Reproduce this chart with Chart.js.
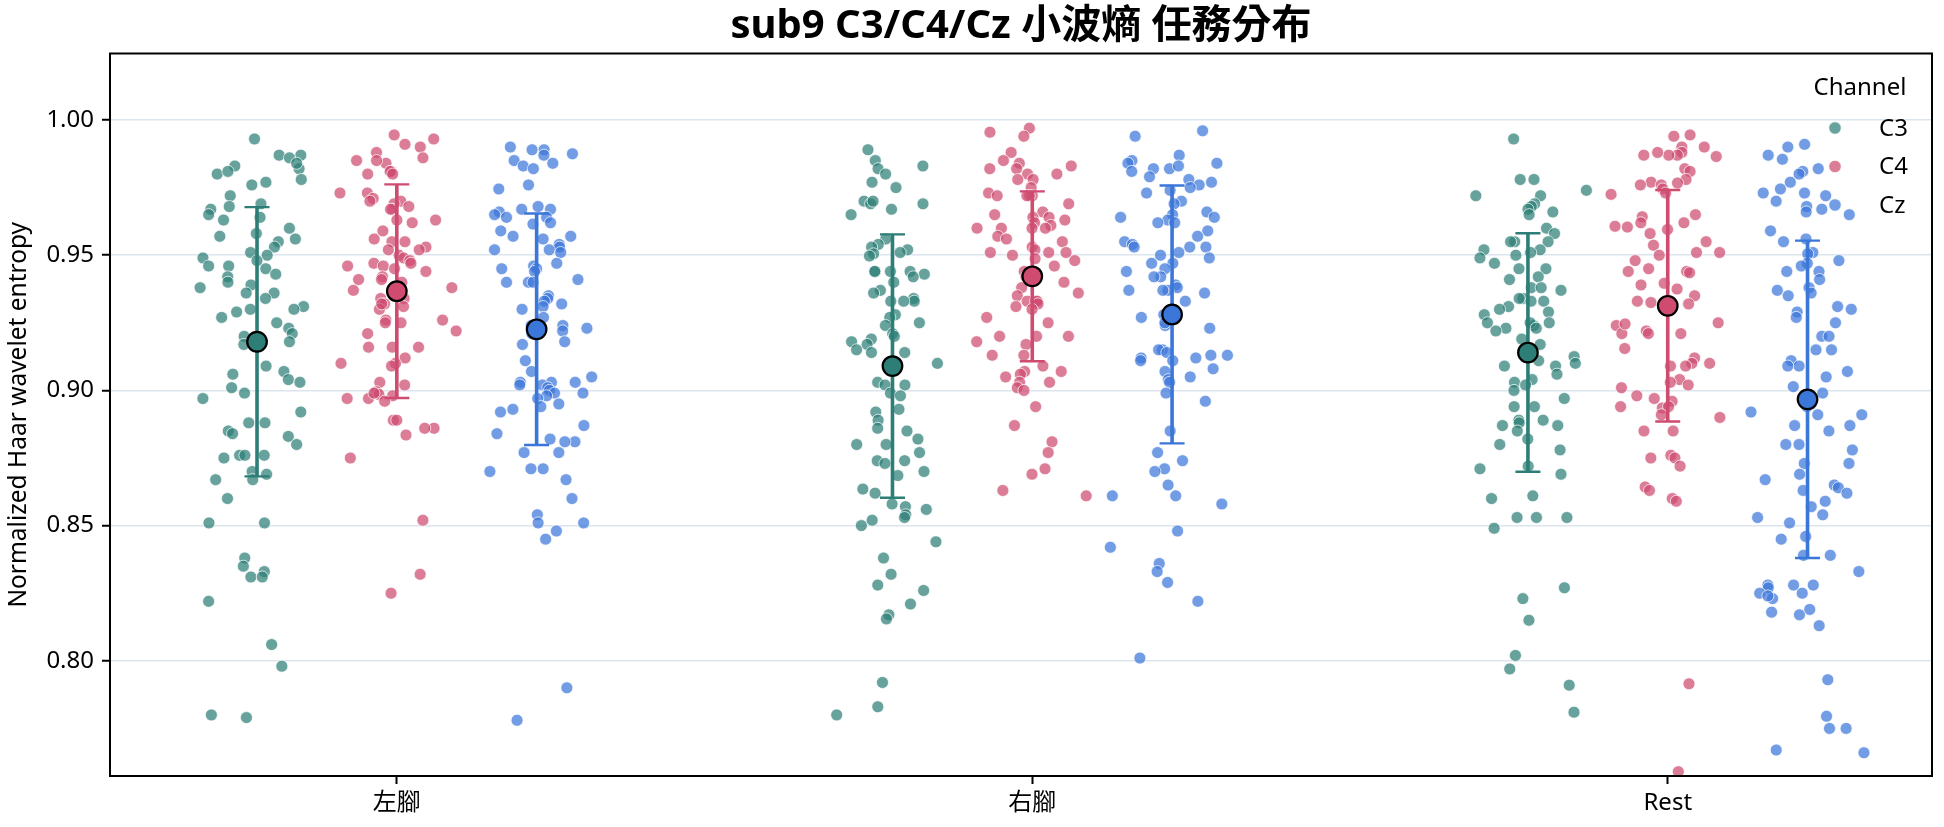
<!DOCTYPE html>
<html><head><meta charset="utf-8">
<script src="https://cdn.jsdelivr.net/npm/chart.js@4.4.1/dist/chart.umd.min.js"></script>
<style>html,body{margin:0;padding:0;background:#fff;}#wrap{width:1944px;height:827px;}</style>
</head><body><div id="wrap"><canvas id="c" width="1944" height="827"></canvas></div>
<script>
// ---------- data ----------
const categories = ['左腳', '右腳', 'Rest'];
const channels = ['C3', 'C4', 'Cz'];
const yTicks = [0.80, 0.85, 0.90, 0.95, 1.00];

const leftC3 = [0.993,0.987,0.987,0.986,0.983,0.982,0.984,0.980,0.981,0.978,0.977,0.976,0.972,0.969,0.968,0.967,0.965,0.964,0.963,0.960,0.958,0.957,0.956,0.955,0.953,0.951,0.950,0.949,0.948,0.946,0.946,0.945,0.943,0.942,0.940,0.939,0.938,0.936,0.936,0.934,0.931,0.930,0.930,0.929,0.927,0.925,0.923,0.921,0.920,0.918,0.917,0.909,0.907,0.906,0.904,0.903,0.901,0.899,0.897,0.892,0.888,0.888,0.885,0.884,0.883,0.880,0.876,0.876,0.876,0.875,0.870,0.869,0.867,0.867,0.860,0.851,0.851,0.838,0.835,0.833,0.831,0.831,0.822,0.806,0.798,0.780,0.779];
const leftC4 = [0.9945,0.990,0.993,0.991,0.988,0.986,0.985,0.984,0.985,0.981,0.981,0.980,0.980,0.973,0.973,0.971,0.970,0.970,0.969,0.968,0.967,0.967,0.963,0.963,0.962,0.959,0.956,0.955,0.955,0.953,0.952,0.952,0.950,0.949,0.948,0.947,0.947,0.946,0.946,0.945,0.944,0.942,0.941,0.941,0.940,0.938,0.937,0.934,0.934,0.932,0.931,0.930,0.932,0.926,0.925,0.925,0.926,0.922,0.921,0.916,0.916,0.916,0.912,0.910,0.909,0.910,0.903,0.902,0.8995,0.8985,0.897,0.899,0.898,0.897,0.896,0.889,0.889,0.886,0.8835,0.886,0.875,0.852,0.832,0.825];
const leftCz = [0.990,0.989,0.989,0.9875,0.987,0.985,0.984,0.983,0.982,0.976,0.9745,0.968,0.967,0.967,0.966,0.965,0.964,0.964,0.962,0.9615,0.959,0.957,0.957,0.956,0.954,0.953,0.952,0.952,0.951,0.947,0.946,0.945,0.945,0.944,0.941,0.940,0.940,0.940,0.935,0.934,0.933,0.932,0.931,0.930,0.927,0.924,0.924,0.923,0.922,0.921,0.918,0.917,0.911,0.907,0.905,0.903,0.903,0.903,0.902,0.902,0.901,0.900,0.899,0.899,0.898,0.897,0.895,0.894,0.893,0.892,0.887,0.884,0.882,0.881,0.881,0.877,0.877,0.871,0.870,0.871,0.867,0.860,0.854,0.851,0.851,0.848,0.845,0.790,0.778];
const rightC3 = [0.989,0.985,0.983,0.982,0.980,0.977,0.975,0.970,0.969,0.970,0.969,0.967,0.965,0.956,0.954,0.953,0.952,0.951,0.9505,0.9497,0.944,0.944,0.943,0.944,0.944,0.942,0.940,0.937,0.936,0.934,0.933,0.933,0.933,0.928,0.927,0.925,0.924,0.921,0.920,0.919,0.918,0.917,0.915,0.914,0.914,0.910,0.903,0.902,0.902,0.899,0.898,0.893,0.892,0.889,0.886,0.885,0.882,0.880,0.880,0.877,0.874,0.874,0.873,0.870,0.8685,0.8635,0.862,0.856,0.857,0.858,0.854,0.853,0.852,0.850,0.844,0.838,0.832,0.828,0.826,0.821,0.817,0.8155,0.792,0.783,0.780];
const rightC4 = [0.997,0.9955,0.994,0.988,0.985,0.984,0.983,0.982,0.982,0.980,0.980,0.978,0.978,0.975,0.973,0.972,0.972,0.972,0.972,0.969,0.966,0.965,0.964,0.964,0.963,0.962,0.961,0.960,0.960,0.960,0.960,0.957,0.956,0.955,0.953,0.952,0.951,0.951,0.951,0.950,0.9487,0.948,0.946,0.944,0.942,0.940,0.938,0.936,0.935,0.933,0.933,0.933,0.932,0.931,0.930,0.927,0.925,0.920,0.920,0.920,0.917,0.918,0.913,0.913,0.909,0.907,0.907,0.906,0.905,0.903,0.903,0.901,0.900,0.894,0.887,0.881,0.877,0.871,0.869,0.863,0.861];
const rightCz = [0.996,0.994,0.987,0.985,0.984,0.982,0.984,0.983,0.982,0.981,0.979,0.978,0.977,0.976,0.975,0.974,0.973,0.970,0.969,0.966,0.965,0.964,0.964,0.963,0.962,0.962,0.959,0.957,0.955,0.954,0.953,0.953,0.953,0.951,0.950,0.949,0.947,0.947,0.945,0.944,0.942,0.942,0.939,0.938,0.937,0.937,0.937,0.936,0.933,0.928,0.927,0.927,0.924,0.925,0.923,0.915,0.915,0.914,0.913,0.913,0.912,0.912,0.911,0.911,0.908,0.907,0.905,0.904,0.903,0.899,0.896,0.885,0.877,0.874,0.871,0.870,0.865,0.861,0.861,0.858,0.848,0.842,0.836,0.833,0.829,0.822,0.801];
const restC3 = [0.993,0.978,0.978,0.974,0.972,0.972,0.969,0.968,0.967,0.966,0.965,0.960,0.958,0.955,0.955,0.955,0.952,0.952,0.951,0.950,0.949,0.947,0.945,0.945,0.942,0.941,0.938,0.938,0.937,0.934,0.934,0.933,0.933,0.931,0.930,0.929,0.928,0.925,0.924,0.925,0.925,0.923,0.923,0.922,0.919,0.917,0.915,0.9125,0.911,0.910,0.909,0.909,0.906,0.904,0.903,0.902,0.900,0.897,0.894,0.894,0.889,0.889,0.888,0.887,0.887,0.885,0.882,0.880,0.878,0.872,0.871,0.869,0.861,0.860,0.853,0.853,0.853,0.849,0.827,0.823,0.815,0.802,0.797,0.791,0.781];
const restC4 = [0.9945,0.994,0.990,0.990,0.988,0.987,0.987,0.9865,0.987,0.988,0.982,0.981,0.978,0.977,0.9767,0.976,0.976,0.9745,0.973,0.9725,0.965,0.9642,0.962,0.962,0.9607,0.9604,0.9595,0.958,0.955,0.9537,0.951,0.951,0.950,0.948,0.945,0.944,0.944,0.9435,0.9396,0.939,0.9375,0.935,0.933,0.9325,0.932,0.925,0.924,0.922,0.921,0.9246,0.921,0.921,0.9155,0.912,0.910,0.910,0.909,0.909,0.904,0.903,0.902,0.901,0.898,0.897,0.896,0.894,0.8935,0.894,0.891,0.890,0.885,0.885,0.876,0.875,0.875,0.872,0.8643,0.863,0.860,0.859,0.7915,0.759];
const restCz = [0.991,0.990,0.987,0.9855,0.982,0.981,0.980,0.977,0.9745,0.973,0.973,0.972,0.970,0.968,0.967,0.966,0.965,0.959,0.956,0.955,0.951,0.9505,0.948,0.947,0.946,0.944,0.944,0.941,0.938,0.937,0.936,0.935,0.931,0.929,0.930,0.927,0.925,0.920,0.920,0.915,0.915,0.911,0.909,0.909,0.907,0.905,0.9014,0.899,0.895,0.894,0.892,0.891,0.891,0.887,0.887,0.885,0.880,0.880,0.878,0.873,0.873,0.869,0.867,0.865,0.864,0.863,0.862,0.859,0.857,0.854,0.853,0.851,0.846,0.845,0.839,0.839,0.833,0.828,0.828,0.828,0.827,0.825,0.825,0.823,0.824,0.819,0.818,0.817,0.813,0.793,0.7795,0.775,0.775,0.767,0.766];

// mean and error-bar half length (SD), per category
const meanC3 = [0.918, 0.909, 0.914];
const sdC3   = [0.0498, 0.0487, 0.0441];
const meanC4 = [0.9367, 0.9422, 0.9313];
const sdC4   = [0.0395, 0.0314, 0.0428];
const meanCz = [0.9226, 0.9281, 0.8967];
const sdCz   = [0.0428, 0.0477, 0.0587];

// ---------- styling ----------
const FONT = "'Noto Sans', 'Noto Sans CJK TC', sans-serif";
const solid = { C3: '#2c7e76', C4: '#cf4b70', Cz: '#3b76d9' };
const alpha = { C3: 'rgba(44,126,118,0.72)', C4: 'rgba(207,75,112,0.72)', Cz: 'rgba(59,118,217,0.72)' };
const dodge = { C3: -0.22, C4: 0, Cz: 0.22 };
const JITTER = 0.1;

// deterministic strip-plot jitter (centre-weighted)
function mulberry32(a){return function(){a|=0;a=a+0x6D2B79F5|0;let t=Math.imul(a^a>>>15,1|a);t=t+Math.imul(t^t>>>7,61|t)^t;return((t^t>>>14)>>>0)/4294967296;};}
const rnd = mulberry32(20240917);

const series = {
  C3: [leftC3, rightC3, restC3],
  C4: [leftC4, rightC4, restC4],
  Cz: [leftCz, rightCz, restCz]
};
const stats = {
  C3: { mean: meanC3, sd: sdC3 },
  C4: { mean: meanC4, sd: sdC4 },
  Cz: { mean: meanCz, sd: sdCz }
};

const datasets = [];
const drawOrder = { C3: 3, C4: 2, Cz: 1 };
channels.forEach(ch => {
  const pts = [];
  series[ch].forEach((vals, ci) => {
    vals.forEach(v => pts.push({ x: ci + dodge[ch] + (rnd() + rnd() - 1) * JITTER, y: v }));
  });
  datasets.push({
    type: 'scatter', label: ch, data: pts, order: drawOrder[ch],
    pointRadius: 6, pointHoverRadius: 6,
    backgroundColor: alpha[ch], borderColor: 'rgba(255,255,255,0.9)', borderWidth: 0.8
  });
});
const meanPts = [], meanCols = [], meanInfo = [];
channels.forEach(ch => {
  categories.forEach((c, ci) => {
    meanPts.push({ x: ci + dodge[ch], y: stats[ch].mean[ci] });
    meanCols.push(solid[ch]);
    meanInfo.push({ ch, x: ci + dodge[ch], lo: stats[ch].mean[ci] - stats[ch].sd[ci], hi: stats[ch].mean[ci] + stats[ch].sd[ci] });
  });
});
datasets.push({
  type: 'scatter', label: 'mean', data: meanPts, order: 0,
  pointRadius: 9.8, pointHoverRadius: 9.8,
  backgroundColor: meanCols, borderColor: '#000', borderWidth: 2.2
});
const MEAN_INDEX = datasets.length - 1;

const errorBars = {
  id: 'errorBars',
  beforeDatasetDraw(chart, args) {
    if (args.index !== MEAN_INDEX) return;
    const { ctx, scales: { x, y } } = chart;
    ctx.save();
    meanInfo.forEach(m => {
      const px = x.getPixelForValue(m.x);
      const pl = y.getPixelForValue(m.lo), ph = y.getPixelForValue(m.hi);
      ctx.strokeStyle = solid[m.ch];
      ctx.lineWidth = 3.6;
      ctx.beginPath(); ctx.moveTo(px, pl); ctx.lineTo(px, ph); ctx.stroke();
      ctx.lineWidth = 2.4;
      ctx.beginPath();
      ctx.moveTo(px - 12.5, ph); ctx.lineTo(px + 12.5, ph);
      ctx.moveTo(px - 12.5, pl); ctx.lineTo(px + 12.5, pl);
      ctx.stroke();
    });
    ctx.restore();
  }
};

const frameAndLegend = {
  id: 'frameAndLegend',
  afterDraw(chart) {
    const { ctx, chartArea: a } = chart;
    ctx.save();
    ctx.strokeStyle = '#000'; ctx.lineWidth = 2;
    ctx.strokeRect(a.left, a.top, a.right - a.left, a.bottom - a.top);
    // legend
    ctx.fillStyle = '#000';
    ctx.font = '24px ' + FONT;
    ctx.textAlign = 'center'; ctx.textBaseline = 'middle';
    ctx.fillText('Channel', a.right - 72, a.top + 35);
    channels.forEach((ch, i) => {
      const yy = a.top + 74.5 + i * 38.5;
      ctx.beginPath(); ctx.arc(a.right - 97, yy, 6.2, 0, Math.PI * 2);
      ctx.fillStyle = alpha[ch]; ctx.fill();
      ctx.strokeStyle = 'rgba(255,255,255,0.9)'; ctx.lineWidth = 0.8; ctx.stroke();
      ctx.fillStyle = '#000'; ctx.textAlign = 'left';
      ctx.fillText(ch, a.right - 53, yy + 1);
    });
    ctx.restore();
  }
};

new Chart(document.getElementById('c'), {
  data: { datasets },
  plugins: [errorBars, frameAndLegend],
  options: {
    responsive: false, devicePixelRatio: 1, animation: false,
    layout: { padding: { left: 0, right: 9, top: 0, bottom: 0 } },
    plugins: {
      legend: { display: false },
      tooltip: { enabled: false },
      title: {
        display: true, fullSize: false, text: 'sub9 C3/C4/Cz 小波熵 任務分布', color: '#000',
        font: { family: FONT, size: 40, weight: 'bold', lineHeight: 1.2 },
        padding: { top: 3, bottom: 2.5 }
      }
    },
    scales: {
      x: {
        type: 'linear', min: -0.45136, max: 2.41587, bounds: 'data',
        afterBuildTicks: s => { s.ticks = categories.map((c, i) => ({ value: i })); },
        afterFit: s => { s.height = 51; },
        ticks: { callback: v => categories[v], color: '#000', font: { family: FONT, size: 24 }, padding: 5, autoSkip: false, maxRotation: 0 },
        grid: { drawOnChartArea: false, tickLength: 8, tickColor: '#000', tickWidth: 2 },
        border: { display: false }
      },
      y: {
        type: 'linear', min: 0.7574, max: 1.0246, bounds: 'data',
        afterBuildTicks: s => { s.ticks = yTicks.map(v => ({ value: v })); },
        afterFit: s => { s.width = 110; },
        ticks: { callback: v => v.toFixed(2), color: '#000', font: { family: FONT, size: 24 }, padding: 8 },
        grid: { color: '#dce5ee', lineWidth: 1.5, tickLength: 8, tickColor: '#000', tickWidth: 2 },
        border: { display: false },
        title: { display: true, text: 'Normalized Haar wavelet entropy', color: '#000', font: { family: FONT, size: 24.5 }, padding: { top: 4, bottom: 0 } }
      }
    }
  }
});
</script></body></html>
